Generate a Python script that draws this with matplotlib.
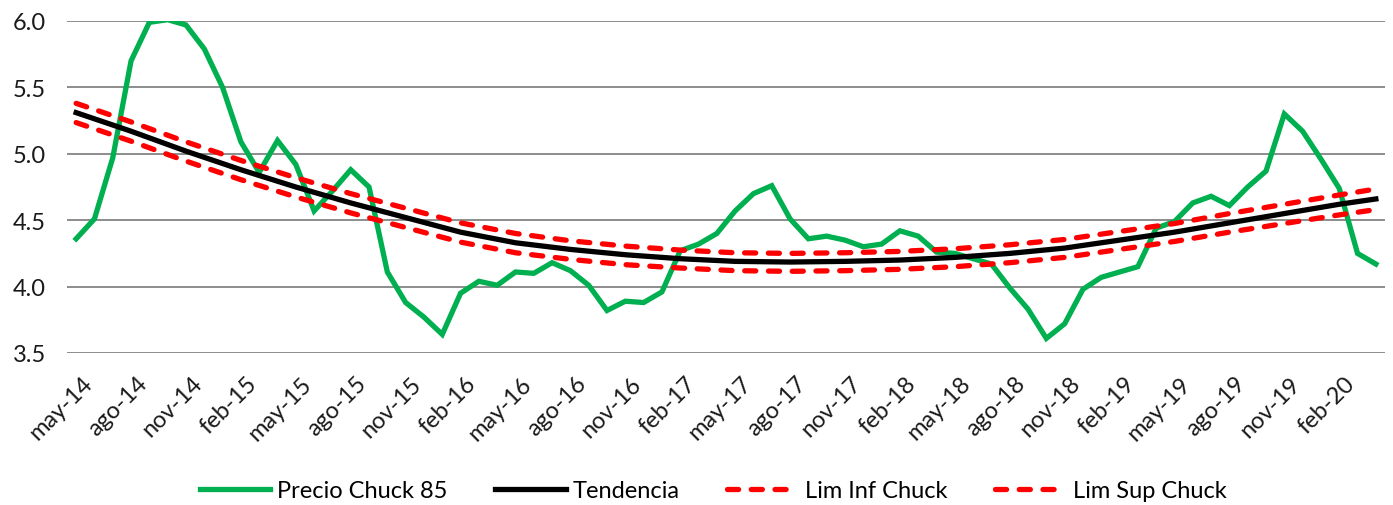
import matplotlib
matplotlib.use("Agg")
import matplotlib.pyplot as plt
import matplotlib.transforms as mtransforms
import numpy as np

# monthly price, may-14 .. apr-20
precio = [4.36, 4.51, 4.97, 5.70, 5.99, 6.01, 5.97, 5.79, 5.50, 5.09,
          4.86, 5.10, 4.92, 4.57, 4.72, 4.88, 4.75, 4.11, 3.88, 3.77,
          3.64, 3.95, 4.04, 4.01, 4.11, 4.10, 4.18, 4.12, 4.01, 3.82,
          3.89, 3.88, 3.96, 4.27, 4.32, 4.40, 4.57, 4.70, 4.76, 4.51,
          4.36, 4.38, 4.35, 4.30, 4.32, 4.42, 4.38, 4.26, 4.25, 4.21,
          4.17, 3.99, 3.83, 3.61, 3.72, 3.98, 4.07, 4.11, 4.15, 4.44,
          4.49, 4.63, 4.68, 4.61, 4.75, 4.87, 5.30, 5.17, 4.96, 4.74,
          4.25, 4.17]

# trend and limits read at quarterly points (month index)
trend_idx = [0, 3, 6, 9, 12, 15, 18, 21, 24, 27, 30, 33, 36, 39, 42, 45,
             48, 51, 54, 57, 60, 63, 66, 69, 71]
tendencia = [5.31, 5.17, 5.02, 4.88, 4.75, 4.63, 4.52, 4.41, 4.33, 4.28,
             4.24, 4.21, 4.19, 4.185, 4.19, 4.20, 4.22, 4.25, 4.29, 4.35,
             4.41, 4.48, 4.55, 4.62, 4.66]
lim_sup = [5.38, 5.24, 5.09, 4.95, 4.82, 4.70, 4.59, 4.48, 4.40, 4.345,
           4.305, 4.275, 4.255, 4.25, 4.255, 4.265, 4.285, 4.315, 4.355, 4.415,
           4.475, 4.55, 4.62, 4.69, 4.735]
lim_inf = [5.235, 5.095, 4.945, 4.805, 4.675, 4.555, 4.445, 4.335, 4.255, 4.205,
           4.165, 4.14, 4.12, 4.115, 4.12, 4.13, 4.15, 4.18, 4.22, 4.28,
           4.34, 4.41, 4.475, 4.54, 4.58]

tick_labels = ["may-14", "ago-14", "nov-14", "feb-15", "may-15", "ago-15",
               "nov-15", "feb-16", "may-16", "ago-16", "nov-16", "feb-17",
               "may-17", "ago-17", "nov-17", "feb-18", "may-18", "ago-18",
               "nov-18", "feb-19", "may-19", "ago-19", "nov-19", "feb-20"]

plt.rcParams['font.family'] = ['Lato', 'DejaVu Sans']

fig = plt.figure(figsize=(13.93, 5.06), dpi=100)
ax = fig.add_axes([67 / 1393, 1 - 354 / 506, (1385 - 67) / 1393, (354 - 22) / 506])

x = np.arange(len(precio))
green = "#00B050"
red = "#FF0000"

ax.plot(x, precio, color=green, lw=3.8, solid_joinstyle='miter', label="Precio Chuck 85", zorder=3)
ax.plot(trend_idx, tendencia, color="black", lw=3.8, label="Tendencia", zorder=4)
ax.plot(trend_idx, lim_inf, color=red, lw=3.8, dashes=(2.1, 2.4), dash_capstyle='round',
        label="Lim Inf Chuck", zorder=5)
ax.plot(trend_idx, lim_sup, color=red, lw=3.8, dashes=(2.1, 2.4), dash_capstyle='round',
        label="Lim Sup Chuck", zorder=5)

ax.set_xlim(-0.5, len(precio) - 0.5)
ax.set_ylim(3.5, 6.0)
ax.set_yticks([3.5, 4.0, 4.5, 5.0, 5.5, 6.0])
ax.set_yticklabels([f"{v:.1f}" for v in [3.5, 4.0, 4.5, 5.0, 5.5, 6.0]])
ax.yaxis.grid(True, color="#8c8c8c", lw=1.4)
ax.set_axisbelow(True)
for s in ax.spines.values():
    s.set_visible(False)

ax.set_xticks(np.arange(0, len(tick_labels) * 3, 3))
ax.set_xticklabels(tick_labels, rotation=45, ha='right', va='top', rotation_mode='anchor')
ax.tick_params(axis='both', length=0, labelsize=17, colors="#1a1a1a")
ax.tick_params(axis='y', pad=15)
ax.tick_params(axis='x', pad=14)
offset = mtransforms.ScaledTranslation(5 / 100, 0, fig.dpi_scale_trans)
for lab in ax.get_xticklabels():
    lab.set_transform(lab.get_transform() + offset)

fig.legend(loc='center', bbox_to_anchor=(713 / 1393, 1 - 492 / 506), ncol=4,
           frameon=False, fontsize=17, handlelength=3.0, handletextpad=0.3,
           columnspacing=2.0)

fig.savefig("out.png", dpi=100)
